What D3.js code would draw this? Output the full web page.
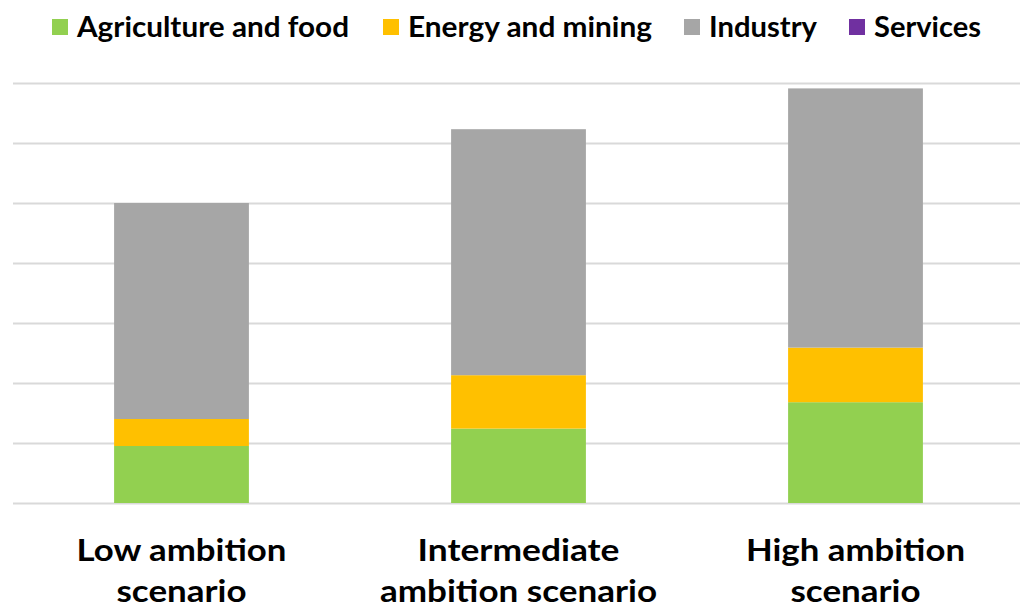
<!DOCTYPE html>
<html>
<head>
<meta charset="utf-8">
<script src="https://cdn.jsdelivr.net/npm/d3@7/dist/d3.min.js"></script>
<style>
  html, body { margin: 0; padding: 0; background: #ffffff; }
  svg { display: block; font-family: Lato, "Open Sans", "Liberation Sans", sans-serif; font-weight: 700; }
</style>
</head>
<body>
<svg id="chart" width="1020" height="609"></svg>
<script>
// Scenario categories (each label drawn on two lines)
const categories = ["Low ambition scenario", "Intermediate ambition scenario", "High ambition scenario"];
const categoryLines = [["Low ambition", "scenario"], ["Intermediate", "ambition scenario"], ["High ambition", "scenario"]];

// Sector series, stacked bottom to top
const seriesNames = ["Agriculture and food", "Energy and mining", "Industry", "Services"];
const seriesColors = ["#92d050", "#ffc000", "#a6a6a6", "#7030a0"];
const agricultureValues = [0.95, 1.24, 1.68];
const energyValues = [0.45, 0.89, 0.91];
const industryValues = [3.60, 4.10, 4.32];
const servicesValues = [0, 0, 0];

// Gridline positions on the value axis
const gridTicks = [0, 1, 2, 3, 4, 5, 6, 7];

const rows = categories.map((c, i) => ({
  category: c,
  "Agriculture and food": agricultureValues[i],
  "Energy and mining": energyValues[i],
  "Industry": industryValues[i],
  "Services": servicesValues[i]
}));

const svg = d3.select("#chart");
const width = 1020, height = 609;
const plot = { left: 13, right: 1024, top: 83, bottom: 503 };

const x = d3.scaleBand()
  .domain(categories)
  .range([plot.left, plot.right])
  .paddingInner(0.6)
  .paddingOuter(0.3);

const y = d3.scaleLinear()
  .domain([0, 7])
  .range([plot.bottom, plot.top]);

// Horizontal gridlines
svg.append("g")
  .selectAll("line")
  .data(gridTicks)
  .join("line")
  .attr("x1", plot.left)
  .attr("x2", width)
  .attr("y1", d => Math.round(y(d)) + 0.5)
  .attr("y2", d => Math.round(y(d)) + 0.5)
  .attr("stroke", "#d9d9d9")
  .attr("stroke-width", 2);

// Stacked bars
const stack = d3.stack().keys(seriesNames);
const layers = stack(rows);
const color = d3.scaleOrdinal().domain(seriesNames).range(seriesColors);

svg.append("g")
  .selectAll("g")
  .data(layers)
  .join("g")
  .attr("fill", d => color(d.key))
  .selectAll("rect")
  .data(d => d)
  .join("rect")
  .attr("x", d => x(d.data.category))
  .attr("width", x.bandwidth())
  .attr("y", d => y(d[1]))
  .attr("height", d => Math.max(0, y(d[0]) - y(d[1])));

// Legend along the top
const legendItems = [
  { x: 52, width: 272 },
  { x: 383, width: 244 },
  { x: 684, width: 108 },
  { x: 849, width: 107 }
];
const legend = svg.append("g")
  .selectAll("g")
  .data(seriesNames)
  .join("g")
  .attr("transform", (d, i) => `translate(${legendItems[i].x},0)`);
legend.append("rect")
  .attr("x", 0).attr("y", 19)
  .attr("width", 16).attr("height", 16)
  .attr("fill", d => color(d));
legend.append("text")
  .attr("x", 25).attr("y", 37)
  .attr("font-size", 28)
  .attr("fill", "#000")
  .attr("textLength", (d, i) => legendItems[i].width)
  .attr("lengthAdjust", "spacingAndGlyphs")
  .text(d => d);

// Category labels under each bar
const labelWidths = [[210, 130], [202, 277], [219, 130]];
const labelGroup = svg.append("g");
categories.forEach((c, i) => {
  const cx = x(c) + x.bandwidth() / 2;
  categoryLines[i].forEach((line, j) => {
    labelGroup.append("text")
      .attr("x", cx)
      .attr("y", 561 + j * 41)
      .attr("text-anchor", "middle")
      .attr("font-size", 31)
      .attr("fill", "#000")
      .attr("textLength", labelWidths[i][j])
      .attr("lengthAdjust", "spacingAndGlyphs")
      .text(line);
  });
});
</script>
</body>
</html>
